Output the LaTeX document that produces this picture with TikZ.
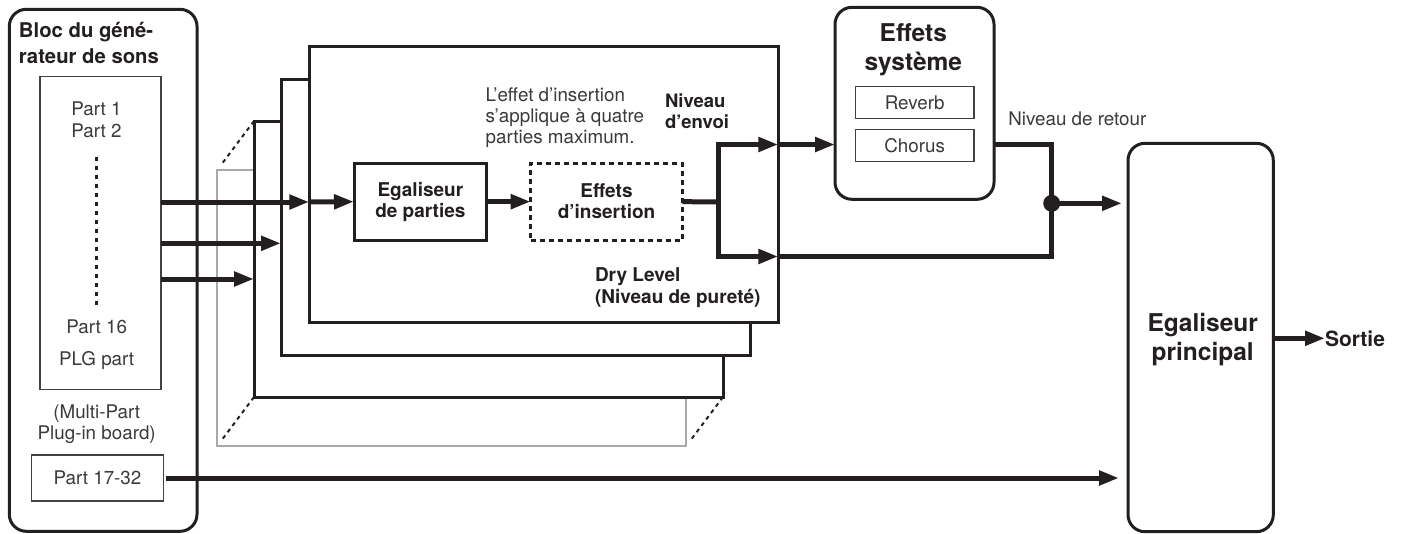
\documentclass[tikz,border=0pt]{standalone}
\usepackage{fontspec}
\setmainfont{TeX Gyre Heros}
\usetikzlibrary{arrows.meta}
\definecolor{ink}{HTML}{231F20}
\definecolor{soft}{HTML}{A7A9AC}
\definecolor{txt}{HTML}{3A3A3A}

\begin{document}
\begin{tikzpicture}[x=1pt,y=-1pt,
  every node/.style={inner sep=0pt, outer sep=0pt, text=ink},
  heavy/.style={draw=ink, line width=3pt, fill=white},
  roundbox/.style={heavy, rounded corners=17pt},
  thinbox/.style={draw=ink!85, line width=1.4pt, fill=white},
  layer/.style={heavy, minimum width=469pt, minimum height=276pt, anchor=north west},
  boldtxt/.style={font=\fontsize{19}{21}\selectfont\bfseries},
  plaintxt/.style={font=\fontsize{18.8}{21.7}\selectfont, text=txt},
  flow/.style={draw=ink, line width=5pt, -{Triangle[length=20pt,width=14pt]}},
  wire/.style={draw=ink, line width=5pt},
  ghost/.style={draw=ink, line width=2pt, dash pattern=on 4pt off 4pt, shorten >=6pt},
]
\useasboundingbox (0,0) rectangle (1405,533);

% sound generator block (multi-line labels are anchored on their last baseline)
\node[roundbox, minimum width=187.7pt, minimum height=522pt, anchor=north west] (gen) at (9.3,9.3) {};
\node[font=\fontsize{20.3}{26}\selectfont\bfseries, align=left, anchor=base west] (gentitle) at (19,63.3) {Bloc du géné-\\rateur de sons};
\node[thinbox, minimum width=121pt, minimum height=313pt] (parts) at (100.5,233.2) {};
\node[plaintxt, align=center, anchor=base, font=\fontsize{18.8}{22}\selectfont] (p12) at (96.5,137.7) {Part 1\\Part 2};
\draw[ink, line width=3pt, dash pattern=on 4.5pt off 4.5pt] (96.7,156.7) -- (96.7,308);
\node[plaintxt, anchor=base] (p16) at (96.7,333) {Part 16};
\node[plaintxt, anchor=base] (plg) at (96.7,365.7) {PLG part};
\node[plaintxt, align=center, anchor=base] (mpb) at (96.7,439.7) {(Multi-Part\\Plug-in board)};
\node[thinbox, plaintxt, minimum width=131.6pt, minimum height=46pt] (p1732) at (97.5,478) {Part 17-32};

% stacked part layers
\node[layer, draw=soft, line width=2pt] (gray) at (217.3,170) {};
\node[layer] (box3) at (254,121) {};
\node[layer] (box2) at (281,79.3) {};
\node[layer] (front) at (309.3,46.7) {};
\draw[ghost] (box3.north west) -- (gray.north west);
\draw[ghost] (box3.south west) -- (gray.south west);
\draw[ghost] (box3.south east) -- (gray.south east);

% part chain
\node[heavy, boldtxt, align=center, minimum width=132.7pt, minimum height=76.7pt] (eq) at (420.35,201.65) {Egaliseur\\de parties};
\node[heavy, boldtxt, align=center, dash pattern=on 5pt off 4pt, minimum width=151.6pt, minimum height=76.7pt] (ins) at (606.5,201.65) {Effets\\d'insertion};
\node[plaintxt, align=left, anchor=base west, font=\fontsize{18.8}{20.8}\selectfont] (note) at (485.7,143.3) {L'effet d'insertion\\s'applique à quatre\\parties maximum.};
\node[align=left, anchor=base west, font=\fontsize{18.5}{21}\selectfont\bfseries] (send) at (665,128.3) {Niveau\\d'envoi};
\node[align=left, anchor=base west, font=\fontsize{19}{21.7}\selectfont\bfseries] (dry) at (595,303) {Dry Level\\(Niveau de pureté)};

% system effects
\node[roundbox, minimum width=159pt, minimum height=192pt] (sys) at (914.5,103.3) {};
\node[align=center, anchor=base, font=\fontsize{24.5}{29}\selectfont\bfseries] (systitle) at (913.3,70.7) {Effets\\système};
\node[thinbox, plaintxt, minimum width=118.7pt, minimum height=32pt] (rev) at (914.65,102.7) {Reverb};
\node[thinbox, plaintxt, minimum width=118.7pt, minimum height=32.4pt] (cho) at (914.65,145.5) {Chorus};
\node[plaintxt, anchor=base west] (ret) at (1008.3,125) {Niveau de retour};

% master equalizer
\node[roundbox, minimum width=145.3pt, minimum height=388.4pt] (eqm) at (1200.65,337.5) {};
\node[align=center, anchor=base, font=\fontsize{24.5}{29}\selectfont\bfseries] (eqmtitle) at (1202.7,360) {Egaliseur\\principal};
\node[anchor=west, font=\fontsize{21}{25}\selectfont\bfseries] (out) at (1325,338.3) {Sortie};

% signal rows
\coordinate (r1) at (0,202);
\coordinate (r2) at (0,243.3);
\coordinate (r3) at (0,279);
\coordinate (sA) at (0,144.5);
\coordinate (sB) at (0,256.5);
\coordinate (br) at (718.3,202);
\coordinate (jn) at (1051.7,203.3);

\draw[flow] (parts.east |- r1) -- (front.west |- r1);
\draw[flow] (parts.east |- r2) -- (box2.west |- r2);
\draw[flow] (parts.east |- r3) -- (box3.west |- r3);
\draw[flow] (front.west |- r1) -- (eq.west);
\draw[flow] (eq.east) -- (ins.west);
\draw[wire] (ins.east) -- (br);
\draw[flow] (br) |- (front.east |- sA);
\draw[flow] (br) |- (front.east |- sB);
\draw[flow] (front.east |- sA) -- (sys.west |- sA);
\draw[wire] (sys.east |- sA) -| (jn |- sB) -- (front.east |- sB);
\fill[ink] (jn) circle (8.5);
\draw[flow, shorten >=6pt] (jn) -- (eqm.west |- jn);
\draw[flow, shorten <=3pt, shorten >=9pt] (p1732.east) -- (eqm.west |- p1732.east);
\draw[flow] (eqm.east |- out) -- (out.west);
\end{tikzpicture}
\end{document}
